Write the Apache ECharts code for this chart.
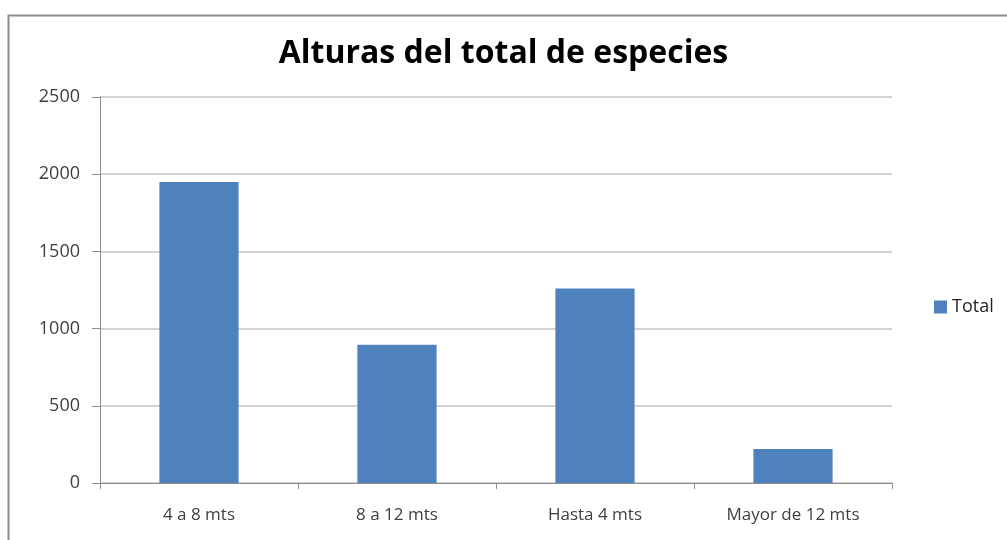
<!DOCTYPE html>
<html>
<head>
<meta charset="utf-8">
<script src="https://cdn.jsdelivr.net/npm/echarts@6/dist/echarts.min.js"></script>
<style>html,body{margin:0;padding:0;background:#fff}#c{width:1007px;height:540px}</style>
</head>
<body>
<div id="c"></div>
<script>
const categories = ['4 a 8 mts', '8 a 12 mts', 'Hasta 4 mts', 'Mayor de 12 mts'];
const totalValues = [1950, 895, 1260, 220];
const yTicks = [0, 500, 1000, 1500, 2000, 2500];
const seriesName = 'Total';
const chartTitle = 'Alturas del total de especies';

const chart = echarts.init(document.getElementById('c'), null, {renderer: 'canvas'});
const font = '"Open Sans", Lato, sans-serif';
chart.setOption({
  animation: false,
  backgroundColor: '#ffffff',
  graphic: [{
    type: 'rect', left: 6, top: 13, z: -1,
    shape: {width: 1020, height: 560},
    style: {fill: 'none', stroke: '#8c8c8c', lineWidth: 2}
  }],
  title: {
    text: chartTitle, left: 'center', top: 33,
    textStyle: {fontFamily: font, fontSize: 32, fontWeight: 'bold', color: '#000'}
  },
  legend: {
    data: [seriesName], left: 929, top: 293,
    itemWidth: 13, itemHeight: 13, itemGap: 6,
    icon: 'rect',
    textStyle: {fontFamily: font, fontSize: 18, color: '#262626', padding: [0, 0, 0, 0]}
  },
  grid: {left: 100, right: 115, top: 97, bottom: 57},
  xAxis: {
    type: 'category', data: categories,
    axisLine: {lineStyle: {color: '#8c8c8c', width: 1}},
    axisTick: {show: true, alignWithLabel: false, length: 6, lineStyle: {color: '#8c8c8c'}},
    axisLabel: {fontFamily: font, fontSize: 17, color: '#404040', margin: 24}
  },
  yAxis: {
    type: 'value', min: yTicks[0], max: yTicks[yTicks.length - 1], interval: 500,
    axisLine: {show: true, lineStyle: {color: '#8c8c8c', width: 1}},
    axisTick: {show: true, length: 8, lineStyle: {color: '#8c8c8c'}},
    axisLabel: {fontFamily: font, fontSize: 18, color: '#404040', margin: 20,
      formatter: function (v) { return String(v); }},
    splitLine: {lineStyle: {color: '#c4c4c4', width: 1.5}}
  },
  series: [{
    name: seriesName, type: 'bar', data: totalValues,
    barWidth: '40%',
    itemStyle: {color: '#4f81bd'}
  }]
});
</script>
</body>
</html>
